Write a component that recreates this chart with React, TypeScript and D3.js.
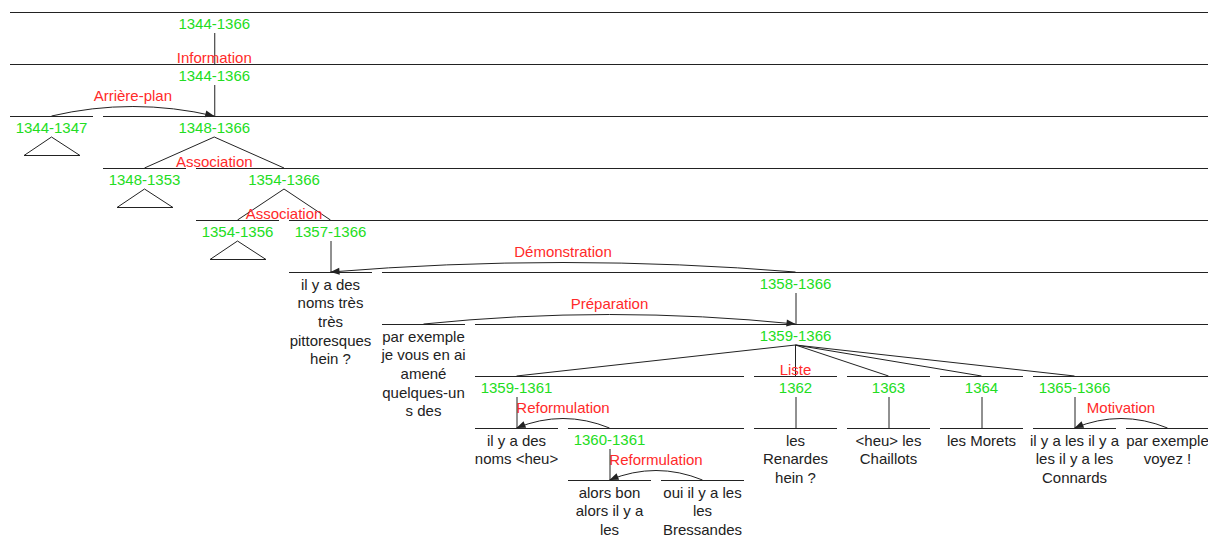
import React from 'react';
import * as d3 from 'd3';

// Tree of discourse nodes (index order = depth-first, left to right)
const nodeLabels = [
  '1344-1366', '1344-1366', '1344-1347', '1348-1366', '1348-1353', '1354-1366', '1354-1356',
  '1357-1366', '', '1358-1366', '', '1359-1366', '1359-1361', '', '1360-1361', '', '',
  '1362', '', '1363', '', '1364', '', '1365-1366', '', '',
];
const nodeParents = [-1, 0, 1, 1, 3, 3, 5, 5, 7, 7, 9, 9, 11, 12, 12, 14, 14, 11, 17, 11, 19, 11, 21, 11, 23, 23];
// N = nucleus / single child, S = satellite, M = multinuclear member
const nodeRoles = ['N', 'N', 'S', 'N', 'M', 'M', 'M', 'M', 'N', 'S', 'S', 'N', 'M', 'N', 'S', 'N', 'S', 'M', 'N', 'M', 'N', 'M', 'N', 'M', 'N', 'S'];
const nodeRelations = [
  '', 'Information', 'Arrière-plan', '', 'Association', 'Association', 'Association', 'Association',
  '', 'Démonstration', 'Préparation', '', 'Liste', '', 'Reformulation', '', 'Reformulation',
  'Liste', '', 'Liste', '', 'Liste', '', 'Liste', '', 'Motivation',
];
const collapsedNodes = [2, 4, 6];
const leafNodes = [8, 10, 13, 15, 16, 18, 20, 22, 24, 25];
const leafLines = [
  ['il y a des', 'noms très', 'très', 'pittoresques', 'hein ?'],
  ['par exemple', 'je vous en ai', 'amené', 'quelques-un', 's des'],
  ['il y a des', 'noms <heu>'],
  ['alors bon', 'alors il y a', 'les'],
  ['oui il y a les', 'les', 'Bressandes'],
  ['les', 'Renardes', 'hein ?'],
  ['<heu> les', 'Chaillots'],
  ['les Morets'],
  ['il y a les il y a', 'les il y a les', 'Connards'],
  ['par exemple', 'voyez !'],
];

const W = 1208;
const H = 539;
const GREEN = '#22dd22';
const RED = '#ff2a2a';
const INK = '#222';
const FONT = '"Liberation Sans", Arial, Helvetica, sans-serif';

export default function App() {
  const n = nodeLabels.length;
  const children: number[][] = Array.from({ length: n }, () => []);
  nodeParents.forEach((p, i) => { if (p >= 0) children[p].push(i); });
  const depth: number[] = new Array(n).fill(0);
  for (let i = 0; i < n; i++) depth[i] = nodeParents[i] < 0 ? 0 : depth[nodeParents[i]] + 1;

  const terminals = d3.range(n).filter((i) => children[i].length === 0);
  const col: number[] = new Array(n).fill(-1);
  terminals.forEach((t, k) => { col[t] = k; });

  const xCol = d3.scaleLinear().domain([0, 1]).range([10, 103]); // column start
  const colW = 83;
  const yDepth = d3.scaleLinear().domain([0, 1]).range([12, 64]);

  const minC: number[] = new Array(n).fill(0);
  const maxC: number[] = new Array(n).fill(0);
  const x: number[] = new Array(n).fill(0);
  for (let i = n - 1; i >= 0; i--) {
    const ch = children[i];
    if (ch.length === 0) {
      minC[i] = col[i];
      maxC[i] = col[i];
      x[i] = xCol(col[i]) + colW / 2;
    } else {
      minC[i] = d3.min(ch, (c) => minC[c])!;
      maxC[i] = d3.max(ch, (c) => maxC[c])!;
      const members = ch.filter((c) => nodeRoles[c] === 'M');
      if (members.length) {
        x[i] = (x[members[0]] + x[members[members.length - 1]]) / 2;
      } else {
        const nuc = ch.find((c) => nodeRoles[c] === 'N') ?? ch[0];
        x[i] = x[nuc];
      }
    }
  }

  const elems: React.ReactNode[] = [];
  for (let i = 0; i < n; i++) {
    const by = yDepth(depth[i]);
    const x0 = xCol(minC[i]);
    const x1 = xCol(maxC[i]) + colW;
    elems.push(
      <line key={`bar${i}`} x1={x0} x2={x1} y1={by + 0.5} y2={by + 0.5} stroke={INK} strokeWidth={1} />
    );
    if (nodeLabels[i]) {
      elems.push(
        <text key={`lab${i}`} x={x[i]} y={by + 16.5} textAnchor="middle" fill={GREEN} fontSize={15} fontFamily={FONT}>
          {nodeLabels[i]}
        </text>
      );
    }
    const li = leafNodes.indexOf(i);
    if (li >= 0) {
      leafLines[li].forEach((ln, k) => {
        elems.push(
          <text key={`leaf${i}_${k}`} x={x[i]} y={by + 17.5 + k * 18.7} textAnchor="middle" fill={INK} fontSize={15} fontFamily={FONT}>
            {ln}
          </text>
        );
      });
    }
    if (collapsedNodes.includes(i)) {
      const pts: [number, number][] = [
        [x0 + 14, by + 39.5],
        [x[i], by + 21],
        [x1 - 13, by + 39.5],
        [x0 + 14, by + 39.5],
      ];
      elems.push(<path key={`tri${i}`} d={d3.line()(pts) ?? ''} fill="none" stroke={INK} strokeWidth={1} />);
    }
    const ch = children[i];
    if (ch.length) {
      const cy = yDepth(depth[i] + 1);
      const members = ch.filter((c) => nodeRoles[c] === 'M');
      if (members.length) {
        members.forEach((m) => {
          elems.push(
            <line key={`ml${i}_${m}`} x1={x[i]} y1={by + 21} x2={x[m]} y2={cy} stroke={INK} strokeWidth={1} />
          );
        });
        elems.push(
          <text key={`rel${i}`} x={x[i]} y={cy - 1.5} textAnchor="middle" fill={RED} fontSize={15} fontFamily={FONT}>
            {nodeRelations[members[0]]}
          </text>
        );
      } else {
        const nuc = ch.find((c) => nodeRoles[c] === 'N') ?? ch[0];
        elems.push(
          <line key={`vl${i}`} x1={x[i] + 0.5} y1={by + 21} x2={x[i] + 0.5} y2={cy} stroke={INK} strokeWidth={1} />
        );
        if (nodeRelations[nuc]) {
          elems.push(
            <text key={`rel${i}`} x={x[i]} y={cy - 1.5} textAnchor="middle" fill={RED} fontSize={15} fontFamily={FONT}>
              {nodeRelations[nuc]}
            </text>
          );
        }
        ch.filter((c) => nodeRoles[c] === 'S').forEach((s) => {
          const sx = x[s];
          const nx = x[nuc];
          const mx = (sx + nx) / 2;
          const cyCtl = cy - 19;
          const p = d3.path();
          p.moveTo(sx, cy);
          p.quadraticCurveTo(mx, cyCtl, nx, cy);
          let dx = nx - mx;
          let dy = cy - cyCtl;
          const len = Math.hypot(dx, dy);
          dx /= len;
          dy /= len;
          const bx = nx - dx * 9;
          const byy = cy - dy * 9;
          const arrow = d3.line()([
            [nx, cy],
            [bx - dy * 3.5, byy + dx * 3.5],
            [bx + dy * 3.5, byy - dx * 3.5],
          ]) + 'Z';
          elems.push(<path key={`arc${s}`} d={p.toString()} fill="none" stroke={INK} strokeWidth={1} />);
          elems.push(<path key={`arr${s}`} d={arrow} fill={INK} stroke="none" />);
          elems.push(
            <text key={`srel${s}`} x={mx} y={cy - 15} textAnchor="middle" fill={RED} fontSize={15} fontFamily={FONT}>
              {nodeRelations[s]}
            </text>
          );
        });
      }
    }
  }

  return (
    <svg width={W} height={H} style={{ position: 'absolute', left: 0, top: 0, background: '#fff' }}>
      <rect width={W} height={H} fill="#fff" />
      {elems}
    </svg>
  );
}
